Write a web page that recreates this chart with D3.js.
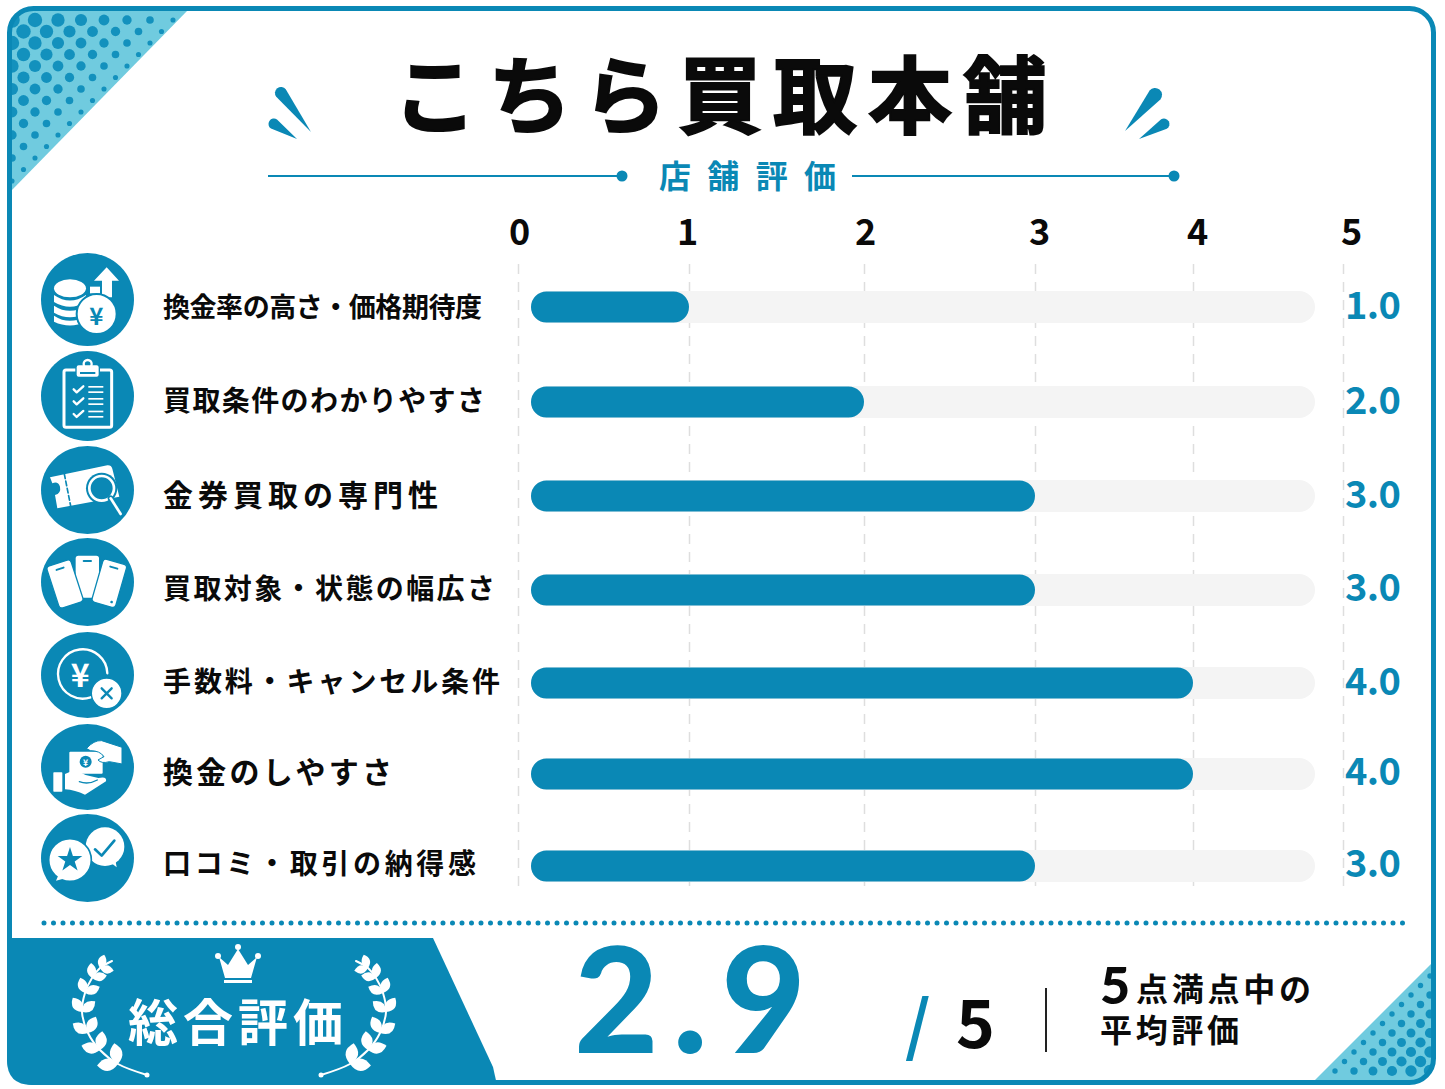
<!DOCTYPE html>
<html>
<head>
<meta charset="utf-8">
<title>こちら買取本舗 店舗評価</title>
<script src="https://d3js.org/d3.v7.min.js"></script>
<style>
html, body { margin: 0; padding: 0; background: #fff; }
svg { display: block; }
text { font-family: "Noto Sans CJK JP", "Noto Sans", sans-serif; }
</style>
</head>
<body>
<div id="chart"></div>
<script>
var categories = ["換金率の高さ・価格期待度", "買取条件のわかりやすさ", "金券買取の専門性", "買取対象・状態の幅広さ", "手数料・キャンセル条件", "換金のしやすさ", "口コミ・取引の納得感"];
var scores = [1, 2, 3, 3, 4, 4, 3];
var scoreLabels = ["1.0", "2.0", "3.0", "3.0", "4.0", "4.0", "3.0"];
var ticks = [0, 1, 2, 3, 4, 5];
var overall = "2.9";

// the picture's axis is not evenly spaced, so the scales are piecewise
var tickPx = [518, 689, 864, 1035, 1193, 1343];
var tickLabelPx = [519, 687, 865, 1039, 1197, 1351];
var rowPx = [307, 402, 496, 590, 683, 774, 866];
var labelRowPx = [305, 399, 493, 587, 680, 770, 862];
var valueRowPx = [302, 397, 491, 584, 678, 768, 860];
var labelWidths = [319, 322, 275, 332, 337, 229, 313];
var labelSizes = [27, 28, 30, 28, 28, 30, 28];
var iconRowPx = [299.5, 396, 490, 582, 675, 767, 858];
var iconRadius = [46.5, 45, 44, 44, 43, 43, 44];

function init() {
    var w = 1445, h = 1089;
    var teal = "#0a88b5", light = "#70cbdf", ink = "#0a0a0a";

    var svg = d3.select("#chart").append("svg").attr("width", w).attr("height", h);
    svg.append("rect").attr("width", w).attr("height", h).attr("fill", "#fff");

    var x = d3.scaleLinear().domain(ticks).range(tickPx);
    var xLabel = d3.scaleLinear().domain(ticks).range(tickLabelPx);
    var y = d3.scaleOrdinal().domain(categories).range(rowPx);
    var yLabel = d3.scaleOrdinal().domain(categories).range(labelRowPx);
    var yValue = d3.scaleOrdinal().domain(categories).range(valueRowPx);

    function label(parent, str, px, py, size, weight, fill, len) {
        var t = parent.append("text")
            .attr("x", px).attr("y", py)
            .attr("font-size", size).attr("font-weight", weight)
            .attr("fill", fill).attr("dominant-baseline", "central")
            .text(str);
        if (len) t.attr("textLength", len).attr("lengthAdjust", "spacing");
        return t;
    }
    // big latin numerals sit on their baseline, in a face with a short descent
    function numeral(parent, str, px, py, size, fill, len) {
        var t = parent.append("text")
            .attr("x", px).attr("y", py)
            .attr("font-size", size).attr("font-weight", 900)
            .attr("fill", fill).style("font-family", "Lato, sans-serif")
            .text(str);
        if (len) t.attr("textLength", len).attr("lengthAdjust", "spacing");
        return t;
    }

    // corner halftones
    var defs = svg.append("defs");
    defs.append("clipPath").attr("id", "tl").append("path").attr("d", "M10,34 Q10,10 34,10 L188,10 L10,192 Z");
    defs.append("clipPath").attr("id", "br").append("path").attr("d", "M1432,963 L1432,1058 Q1432,1081 1409,1081 L1314,1081 Z");

    function halftone(id, cornerX, cornerY, sign, size, step, maxR) {
        var g = svg.append("g").attr("clip-path", "url(#" + id + ")");
        g.append("rect").attr("x", sign > 0 ? cornerX : cornerX - size).attr("y", sign > 0 ? cornerY : cornerY - size)
            .attr("width", size).attr("height", size).attr("fill", light);
        for (var row = 0; row < size / (step / 2); row++) {
            for (var col = -1; col < size / step; col++) {
                var dx = col * step + (row % 2 ? step / 2 : 0) + 2;
                var dy = row * step / 2 + 10;
                var t = (dx + dy) / size;
                if (t > 1) continue;
                var r = 1.5 + (maxR - 1.5) * Math.pow(Math.min(1, 1 - t), 0.6);
                g.append("circle").attr("cx", cornerX + sign * dx).attr("cy", cornerY + sign * dy).attr("r", r).attr("fill", "#1391bd");
            }
        }
    }
    halftone("tl", 10, 10, 1, 182, 23, 8);
    halftone("br", 1432, 1081, -1, 118, 19, 6.5);

    // frame
    svg.append("rect").attr("x", 9.5).attr("y", 8.5).attr("width", 1424).attr("height", 1074).attr("rx", 24)
        .attr("fill", "none").attr("stroke", teal).attr("stroke-width", 5);

    // title block
    label(svg, "こちら買取本舗", 393, 90, 84, 700, ink, 654).attr("stroke", ink).attr("stroke-width", 2);
    label(svg, "店舗評価", 659, 174, 32, 700, teal, 177);

    function drop(hx, hy, tx, ty, r) {
        var a = Math.atan2(ty - hy, tx - hx), nx = -Math.sin(a) * r, ny = Math.cos(a) * r;
        svg.append("path").attr("fill", teal).attr("d",
            "M" + tx + "," + ty + " L" + (hx + nx) + "," + (hy + ny) +
            " A" + r + "," + r + " 0 1 1 " + (hx - nx) + "," + (hy - ny) + " Z");
    }
    drop(281, 93, 311, 132, 6);
    drop(274, 124, 297, 139, 5.5);
    drop(1155, 95, 1125, 131, 7);
    drop(1164, 124, 1139, 139, 5.5);

    svg.append("line").attr("x1", 268).attr("x2", 622).attr("y1", 176).attr("y2", 176).attr("stroke", teal).attr("stroke-width", 2);
    svg.append("line").attr("x1", 852).attr("x2", 1174).attr("y1", 176).attr("y2", 176).attr("stroke", teal).attr("stroke-width", 2);
    svg.append("circle").attr("cx", 622).attr("cy", 176).attr("r", 5.5).attr("fill", teal);
    svg.append("circle").attr("cx", 1174).attr("cy", 176).attr("r", 5.5).attr("fill", teal);

    // axes
    var grid = svg.append("g").attr("transform", "translate(0,264)")
        .call(d3.axisBottom(x).tickValues(ticks).tickSize(622).tickFormat(""));
    grid.select(".domain").remove();
    grid.selectAll("line").attr("stroke", "#dedede").attr("stroke-width", 1.5).attr("stroke-dasharray", "10 8");

    var axisTop = svg.append("g").attr("transform", "translate(0,245)")
        .call(d3.axisTop(xLabel).tickValues(ticks).tickSize(0).tickPadding(0).tickFormat(d3.format("d")));
    axisTop.select(".domain").remove();
    axisTop.selectAll("text").attr("font-size", 36).attr("font-weight", 700).attr("fill", ink)
        .style("font-family", '"Noto Sans CJK JP", sans-serif');

    // bars
    var barH = 32, barStart = 531, trackEnd = 1315;
    svg.selectAll("rect.track").data(categories).enter().append("rect").attr("class", "track")
        .attr("x", barStart).attr("y", function(d) { return y(d) - barH / 2; })
        .attr("width", trackEnd - barStart).attr("height", barH).attr("rx", barH / 2)
        .attr("fill", "#f4f4f4");

    svg.selectAll("rect.bar").data(categories).enter().append("rect").attr("class", "bar")
        .attr("x", barStart).attr("y", function(d) { return y(d) - barH / 2 + 0.5; })
        .attr("width", function(d, i) { return x(scores[i]) - barStart; })
        .attr("height", barH - 1).attr("rx", (barH - 1) / 2)
        .attr("fill", teal);

    categories.forEach(function(name, i) {
        label(svg, name, 163, yLabel(name), labelSizes[i], 700, ink, labelWidths[i]);
        label(svg, scoreLabels[i], 1345, yValue(name), 38, 700, teal, 56);
    });

    // icon discs are slightly squashed in the source
    svg.selectAll("ellipse.disc").data(iconRowPx).enter().append("ellipse").attr("class", "disc")
        .attr("cx", 87.5).attr("cy", function(d) { return d; })
        .attr("rx", 46.5)
        .attr("ry", function(d, i) { return iconRadius[i]; })
        .attr("fill", teal);

    // glyphs below are drawn at 3x so they can be read straight off a zoomed crop
    var upper = svg.append("g").attr("transform", "translate(20,240) scale(0.3333)");
    var lower = svg.append("g").attr("transform", "translate(20,530) scale(0.3333)");

    function p(g, d, fill, stroke, sw) {
        return g.append("path").attr("d", d).attr("fill", fill || "none")
            .attr("stroke", stroke || "none").attr("stroke-width", sw || 0)
            .attr("stroke-linejoin", "round").attr("stroke-linecap", "round");
    }
    function c(g, cx, cy, r, fill, stroke, sw) {
        return g.append("circle").attr("cx", cx).attr("cy", cy).attr("r", r)
            .attr("fill", fill || "none").attr("stroke", stroke || "none").attr("stroke-width", sw || 0);
    }

    // 1 coins and yen
    var g = upper;
    g.append("ellipse").attr("cx", 150).attr("cy", 145).attr("rx", 48).attr("ry", 27).attr("fill", "#fff");
    p(g, "M102,165 Q150,198 198,165 L198,186 Q150,215 102,186 Z", "#fff");
    p(g, "M102,197 Q150,228 198,197 L198,218 Q150,245 102,218 Z", "#fff");
    p(g, "M102,227 Q150,258 198,227 L198,245 Q150,268 102,245 Z", "#fff");
    p(g, "M260,82 L297,122 L276,122 L276,172 L246,172 L246,122 L222,122 Z", "#fff");
    g.append("rect").attr("x", 210).attr("y", 140).attr("width", 30).attr("height", 20).attr("fill", "#fff");
    c(g, 230, 222, 60, "#fff", teal, 6);
    label(g, "¥", 208, 224, 72, 700, teal);

    // 2 clipboard
    g.append("rect").attr("x", 132).attr("y", 390).attr("width", 143).attr("height", 172).attr("rx", 6)
        .attr("fill", teal).attr("stroke", "#fff").attr("stroke-width", 9);
    g.append("rect").attr("x", 168).attr("y", 374).attr("width", 70).attr("height", 38).attr("rx", 8)
        .attr("fill", "#fff").attr("stroke", teal).attr("stroke-width", 4);
    c(g, 203, 372, 12, "none", "#fff", 7);
    g.append("rect").attr("x", 180).attr("y", 396).attr("width", 46).attr("height", 6).attr("fill", teal);
    [448, 484, 522].forEach(function(cy) {
        p(g, "M161," + cy + " l9,9 l20,-18", "none", "#fff", 7);
        [-8, 8].forEach(function(o) {
            g.append("rect").attr("x", 205).attr("y", cy + o - 2).attr("width", 45).attr("height", 5).attr("fill", "#fff");
        });
    });

    // 3 ticket with magnifier
    p(g, "M90,712 L262,676 Q274,675 277,686 L298,770 L112,805 L105,765 Q124,760 120,740 Q114,722 97,730 Z", "#fff");
    p(g, "M133,702 L152,798", "none", teal, 5).attr("stroke-dasharray", "14 8");
    c(g, 245, 745, 47, teal);
    c(g, 245, 745, 37, teal, "#fff", 8);
    p(g, "M272,775 L302,822", "none", teal, 18);
    p(g, "M272,775 L302,822", "none", "#fff", 8);

    // 4 phones
    function phone(cx, cy, pw, ph, rot, dot) {
        var ph0 = lower.append("g").attr("transform", "translate(" + cx + "," + cy + ") rotate(" + rot + ")");
        ph0.append("rect").attr("x", -pw / 2).attr("y", -ph / 2).attr("width", pw).attr("height", ph).attr("rx", 10)
            .attr("fill", "#fff").attr("stroke", teal).attr("stroke-width", 4);
        ph0.append("rect").attr("x", -14).attr("y", -ph / 2 + 15).attr("width", 28).attr("height", 6).attr("rx", 3).attr("fill", teal);
        if (dot) c(ph0, pw / 2 - 15, ph / 2 - 15, 4, teal);
    }
    phone(202, 140, 74, 130, 0, false);
    phone(135, 162, 76, 132, -18, false);
    phone(268, 160, 74, 134, 16, true);

    // 5 yen ring with cross
    p(lower, "M212,502 A74,74 0 1 1 262,430", "none", "#fff", 7);
    label(lower, "¥", 152, 430, 96, 700, "#fff");
    c(lower, 260, 490, 46, "#fff", teal, 4);
    p(lower, "M245,475 L275,505 M275,475 L245,505", "none", teal, 7);

    // 6 hand and note
    lower.append("rect").attr("x", 148).attr("y", 665).attr("width", 100).attr("height", 66).attr("rx", 3).attr("fill", "#fff");
    c(lower, 197, 695, 18, teal);
    label(lower, "¥", 189, 695, 26, 700, "#fff");
    p(lower, "M200,655 Q222,630 245,632 L306,652 L306,702 L268,695 Q245,702 234,690 L252,680 Q240,662 212,662 Z", "#fff", teal, 3);
    lower.append("rect").attr("x", 100).attr("y", 727).attr("width", 27).attr("height", 58).attr("rx", 2).attr("fill", "#fff");
    p(lower, "M135,732 Q165,715 197,735 L235,744 Q262,738 258,754 L195,794 Q165,780 135,778 Z", "#fff");
    p(lower, "M178,755 Q205,765 232,750", "none", teal, 4);

    // 7 speech bubbles
    c(lower, 255, 950, 58, "#fff");
    p(lower, "M262,990 L290,1012 L285,985 Z", "#fff");
    p(lower, "M225,958 L245,977 L283,932", "none", teal, 8);
    c(lower, 150, 990, 64, "#fff", teal, 5);
    p(lower, "M118,1030 L108,1052 L152,1040 Z", "#fff");
    lower.append("path").attr("d", d3.symbol(d3.symbolStar, 1700)()).attr("transform", "translate(150,990)").attr("fill", teal);

    // footer
    svg.append("line").attr("x1", 44).attr("x2", 1405).attr("y1", 923).attr("y2", 923)
        .attr("stroke", teal).attr("stroke-width", 5).attr("stroke-linecap", "round").attr("stroke-dasharray", "0 9.5");
    svg.append("path").attr("fill", teal).attr("d", "M7,938 L433,938 L493,1067 L497,1085 L32,1085 Q7,1085 7,1060 Z");

    // laurel
    function laurel(parent) {
        var stem = [[147, 1075], [118, 1064], [100, 1050], [88, 1033], [82, 1012], [85, 993], [92, 978], [100, 968], [112, 961]];
        p(parent, d3.line().curve(d3.curveCatmullRom)(stem), "none", "#fff", 2);
        c(parent, 147, 1075, 2.5, "#fff");
        stem.slice(1, -1).forEach(function(n, i) {
            var next = stem[i + 2];
            var a = Math.atan2(next[1] - n[1], next[0] - n[0]) * 180 / Math.PI;
            var len = i < 1 ? 21 : 20 - i;
            [-42, 42].forEach(function(o) {
                parent.append("path").attr("fill", "#fff")
                    .attr("d", "M0,0 Q" + len / 2 + "," + (-len * 0.6) + " " + len + ",0 Q" + len / 2 + "," + (len * 0.6) + " 0,0")
                    .attr("transform", "translate(" + n[0] + "," + n[1] + ") rotate(" + (a + o) + ")");
            });
        });
    }
    laurel(svg.append("g"));
    laurel(svg.append("g").attr("transform", "translate(468,0) scale(-1,1)"));

    // crown
    p(svg, "M219,957 L228,965 L238,949 L248,965 L257,957 L251,978 L225,978 Z", "#fff");
    c(svg, 218, 956, 3, "#fff");
    c(svg, 238, 947, 3, "#fff");
    c(svg, 258, 956, 3, "#fff");
    svg.append("rect").attr("x", 224).attr("y", 980).attr("width", 28).attr("height", 3).attr("fill", "#fff");

    label(svg, "総合評価", 128, 1019, 50, 700, "#fff", 215);

    numeral(svg, overall, 574, 1053, 146, teal, 232);
    label(svg, "/", 905, 1020, 66, 700, teal);
    label(svg, "5", 956, 1019, 66, 700, ink);
    svg.append("line").attr("x1", 1046).attr("x2", 1046).attr("y1", 988).attr("y2", 1052).attr("stroke", "#222").attr("stroke-width", 2);
    numeral(svg, "5", 1100, 1004, 52, ink);
    label(svg, "点満点中の", 1136, 987, 32, 700, ink, 175);
    label(svg, "平均評価", 1100, 1028, 32, 700, ink, 139);
}

window.onload = init;
</script>
</body>
</html>
